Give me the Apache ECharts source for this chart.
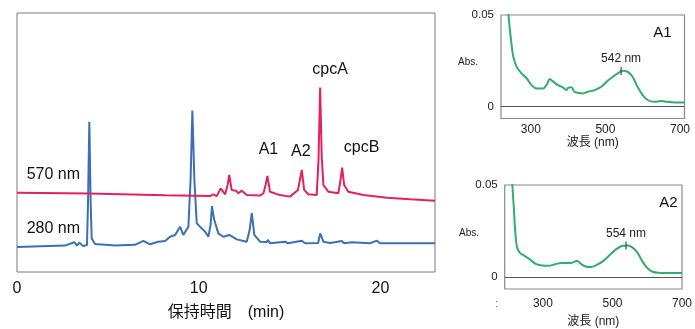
<!DOCTYPE html>
<html>
<head>
<meta charset="utf-8">
<script src="https://cdn.jsdelivr.net/npm/echarts@6/dist/echarts.min.js"></script>
<style>
  html, body { margin: 0; padding: 0; background: #fff; }
  #chart { width: 695px; height: 329px; }
</style>
</head>
<body>
<div id="chart"></div>
<script>
// chromatogram, 570 nm (min, a.u.)
const time570 = [0, 3.96, 8.15, 10.62, 10.8, 10.99, 11.21, 11.45, 11.59, 11.68, 11.81, 12.05, 12.18, 12.37, 12.64, 13.37, 13.56, 13.68, 13.78, 13.92, 14.47, 14.57, 15.02, 15.46, 15.67, 15.8, 16.03, 16.49, 16.59, 16.68, 16.77, 16.86, 17.13, 17.68, 17.8, 17.89, 18.0, 18.23, 19.06, 20.35, 21.63, 23.0];
const signal570 = [30.6, 30.3, 29.6, 29.3, 30.0, 29.3, 32.3, 30.0, 33.6, 37.5, 31.7, 31.4, 30.4, 31.4, 29.7, 29.5, 30.4, 33.6, 37.1, 31.0, 29.7, 30.2, 29.1, 31.7, 39.4, 31.7, 30.0, 29.7, 43.2, 71.2, 43.9, 33.6, 31.0, 30.4, 35.5, 40.3, 33.6, 31.0, 29.7, 28.7, 28.1, 27.5];

// chromatogram, 280 nm
const time280 = [0, 2.64, 3.15, 3.3, 3.43, 3.65, 3.85, 3.91, 3.98, 4.05, 4.11, 4.29, 5.39, 6.49, 6.95, 7.32, 7.76, 8.15, 8.42, 8.7, 8.97, 9.15, 9.43, 9.55, 9.65, 9.76, 9.89, 10.07, 10.35, 10.53, 10.65, 10.73, 10.8, 10.86, 10.91, 11.08, 11.35, 11.68, 12.09, 12.64, 12.8, 12.92, 13.06, 13.37, 13.74, 13.8, 13.92, 14.75, 14.91, 15.67, 15.85, 16.57, 16.68, 16.86, 17.23, 17.87, 18.0, 18.42, 19.43, 19.8, 19.98, 23.0];
const signal280 = [9.7, 10.2, 11.5, 10.2, 11.3, 10.0, 10.4, 27.8, 58.0, 27.8, 13.0, 10.8, 10.2, 10.5, 12.0, 10.7, 11.7, 12.0, 13.6, 14.3, 17.5, 14.3, 17.5, 35.5, 62.3, 35.5, 18.8, 17.5, 15.6, 13.6, 18.1, 25.5, 22.0, 20.1, 18.8, 14.9, 13.6, 14.3, 12.6, 11.7, 16.2, 22.7, 14.3, 11.7, 11.6, 12.4, 11.1, 11.7, 11.1, 12.1, 11.1, 11.2, 14.9, 11.7, 11.2, 12.0, 11.1, 11.5, 11.1, 12.1, 11.1, 11.1];

const peakLabels = ['A1', 'A2', 'cpcA', 'cpcB'];
const peakTimes = [13.78, 15.67, 16.68, 17.89];
const peakHeights = [37.1, 39.4, 71.2, 40.3];

// absorption spectra (nm, Abs.)
const waveA1 = [237, 240, 244, 249, 253, 262, 275, 289, 302, 315, 333, 342, 351, 360, 373, 386, 395, 401, 409, 417, 426, 440, 453, 471, 489, 506, 520, 533, 546, 560, 573, 586, 600, 613, 631, 649, 666, 684, 706, 712];
const absA1 = [0.056, 0.05, 0.0418, 0.0327, 0.0272, 0.0217, 0.0181, 0.0154, 0.0117, 0.0099, 0.0099, 0.0117, 0.015, 0.0136, 0.0117, 0.0105, 0.009, 0.0103, 0.0105, 0.0081, 0.0075, 0.0072, 0.0081, 0.009, 0.0108, 0.0141, 0.0163, 0.0181, 0.0196, 0.019, 0.0163, 0.0108, 0.0063, 0.0036, 0.0026, 0.003, 0.0026, 0.0023, 0.0023, 0.0022];
const waveA2 = [210, 212, 216, 220, 225, 233, 247, 261, 279, 298, 316, 335, 353, 372, 386, 398, 409, 423, 437, 456, 474, 493, 511, 530, 544, 558, 572, 586, 600, 614, 632, 660, 700];
const absA2 = [0.056, 0.05, 0.0382, 0.0256, 0.0166, 0.0133, 0.0115, 0.0098, 0.0072, 0.0063, 0.0061, 0.007, 0.0076, 0.0076, 0.0079, 0.0088, 0.0072, 0.0057, 0.0054, 0.0067, 0.0088, 0.0121, 0.0152, 0.017, 0.0171, 0.016, 0.0133, 0.0085, 0.0049, 0.003, 0.0023, 0.0022, 0.0022];

const FONT = "'Liberation Sans', 'Noto Sans CJK JP', sans-serif";
const zip = (xs, ys) => xs.map((x, i) => [x, ys[i]]);

const peakOffsets = [[1, -26], [-1, -18], [10, -18], [19.5, -20]];

const chart = echarts.init(document.getElementById('chart'), null, { renderer: 'canvas' });

const specXAxis = (grid, min, max, margin, gap) => ({
  type: 'value',
  gridIndex: grid,
  min,
  max,
  axisLine: { show: false },
  axisTick: { show: false },
  splitLine: { show: false },
  axisLabel: { customValues: [300, 500, 700], fontSize: 12, color: '#222', margin, fontFamily: FONT },
  name: '波長 (nm)',
  nameLocation: 'middle',
  nameGap: gap,
  nameTextStyle: { fontSize: 12, color: '#222', fontFamily: FONT },
});

const specYAxis = (grid) => ({
  type: 'value',
  gridIndex: grid,
  min: -0.0065,
  max: 0.05,
  axisLine: { show: false },
  axisTick: { show: false },
  splitLine: { show: false },
  axisLabel: {
    customValues: [0, 0.05],
    formatter: (v) => (v === 0 ? '0' : '0.05'),
    fontSize: 11.5,
    color: '#222',
    margin: 7,
    fontFamily: FONT,
  },
});

const specSeries = (idx, data, tickAt, tickText) => ({
  type: 'line',
  xAxisIndex: idx,
  yAxisIndex: idx,
  data,
  showSymbol: false,
  smooth: 0.3,
  clip: true,
  lineStyle: { color: '#2fae6c', width: 2 },
  markLine: {
    silent: true,
    symbol: ['none', 'none'],
    label: { show: false },
    lineStyle: { color: '#555', width: 1, type: 'solid' },
    data: [{ yAxis: 0 }],
  },
  markPoint: {
    symbol: 'rect',
    symbolSize: [1.2, 8],
    itemStyle: { color: '#444' },
    label: {
      show: true,
      position: 'top',
      distance: 2,
      formatter: tickText,
      fontSize: 12,
      color: '#222',
      fontFamily: FONT,
    },
    data: [{ coord: tickAt }],
  },
});

const option = {
  animation: false,
  textStyle: { fontFamily: FONT },
  grid: [
    { left: 17, top: 13, width: 418, height: 259, show: true, borderColor: '#7a7a7a', borderWidth: 1 },
    { left: 501, top: 15, width: 183.5, height: 103.5, show: true, borderColor: '#8a8a8a', borderWidth: 1.2 },
    { left: 504.7, top: 185, width: 183, height: 104.3, show: true, borderColor: '#8a8a8a', borderWidth: 1.2 },
  ],
  xAxis: [
    {
      type: 'value',
      gridIndex: 0,
      min: 0,
      max: 23,
      interval: 10,
      axisLine: { show: false },
      axisTick: { show: false },
      splitLine: { show: false },
      axisLabel: { fontSize: 16, color: '#111', margin: 9, showMaxLabel: false, fontFamily: FONT },
      name: '保持時間\u3000(min)',
      nameLocation: 'middle',
      nameGap: 33,
      nameTextStyle: { fontSize: 16, color: '#111', fontFamily: FONT },
    },
    specXAxis(1, 220, 712, 5, 18),
    specXAxis(2, 190, 700, 8.5, 27),
  ],
  yAxis: [
    { type: 'value', gridIndex: 0, min: 0, max: 100, show: false },
    specYAxis(1),
    specYAxis(2),
  ],
  series: [
    {
      name: '280 nm',
      type: 'line',
      data: zip(time280, signal280),
      showSymbol: false,
      lineStyle: { color: '#3d6fb6', width: 2 },
      markPoint: {
        symbol: 'circle',
        symbolSize: 0.1,
        itemStyle: { color: 'transparent' },
        label: { show: true, position: 'inside', formatter: '{b}', fontSize: 16, color: '#111', fontFamily: FONT },
        data: [{ name: '280 nm', coord: [2.0, 16.9] }],
      },
    },
    {
      name: '570 nm',
      type: 'line',
      data: zip(time570, signal570),
      showSymbol: false,
      lineStyle: { color: '#e2225f', width: 2 },
      markPoint: {
        symbol: 'circle',
        symbolSize: 0.1,
        itemStyle: { color: 'transparent' },
        label: { show: true, position: 'inside', formatter: '{b}', fontSize: 16, color: '#111', fontFamily: FONT },
        data: [{ name: '570 nm', coord: [2.0, 37.5] }].concat(
          peakLabels.map((name, i) => ({
            name,
            coord: [peakTimes[i], peakHeights[i]],
            label: { offset: peakOffsets[i] },
          }))
        ),
      },
    },
    specSeries(1, zip(waveA1, absA1), [542, 0.0194], '542 nm'),
    specSeries(2, zip(waveA2, absA2), [539, 0.0172], '554 nm'),
  ],
  graphic: [
    { type: 'text', style: { x: 662.3, y: 32.7, text: 'A1', align: 'center', verticalAlign: 'middle', fontSize: 15, fill: '#111', fontFamily: FONT } },
    { type: 'text', style: { x: 668.3, y: 203.3, text: 'A2', align: 'center', verticalAlign: 'middle', fontSize: 15, fill: '#111', fontFamily: FONT } },
    { type: 'text', style: { x: 468, y: 62, text: 'Abs.', align: 'center', verticalAlign: 'middle', fontSize: 10, fill: '#222', fontFamily: FONT } },
    { type: 'text', style: { x: 469, y: 233, text: 'Abs.', align: 'center', verticalAlign: 'middle', fontSize: 10, fill: '#222', fontFamily: FONT } },
    { type: 'text', style: { x: 496.7, y: 304, text: ':', align: 'center', verticalAlign: 'middle', fontSize: 10, fill: '#666', fontFamily: FONT } },
  ],
};

chart.setOption(option);
</script>
</body>
</html>
